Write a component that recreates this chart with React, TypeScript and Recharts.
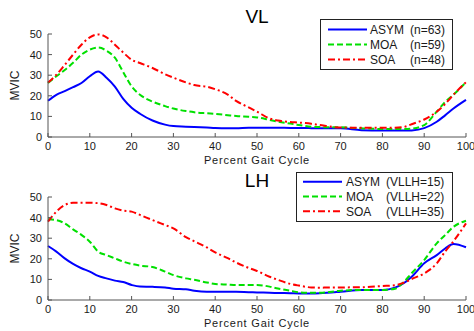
import React from 'react';
import { LineChart, Line, XAxis, YAxis, Label } from 'recharts';

// Percent gait cycle sample points
const cycle = [0, 2, 4, 6, 8, 10, 12, 14, 16, 18, 20, 22, 25, 28, 30, 33, 35, 38, 40, 43, 45, 48, 50, 53, 55, 58, 60, 63, 65, 70, 75, 80, 83, 85, 87, 90, 93, 95, 97, 100];

// VL panel (MVIC)
const vlAsym = [17.6, 20.5, 22.3, 24.2, 26.2, 29.5, 31.8, 28.8, 24.5, 18.5, 14.2, 11.3, 8, 6, 5.3, 5, 4.8, 4.6, 4.4, 4.3, 4.3, 4.5, 4.5, 4.5, 4.5, 4.4, 4.4, 4.3, 4.2, 4.2, 3.3, 3.1, 3.1, 3.1, 3.2, 4.3, 7.4, 10.5, 13.8, 18];
const vlMoa = [26.2, 29.5, 32.5, 36, 40, 42.4, 43.4, 41.9, 38.5, 31.5, 24.6, 20.5, 17.2, 15, 13.8, 12.6, 12, 11.5, 11.2, 10.6, 10.2, 9.8, 9.5, 8.3, 7.5, 6.5, 5.8, 5, 4.8, 4.7, 4.2, 3.9, 3.9, 3.9, 4.1, 5.8, 12.3, 17, 20.5, 26.6];
const vlSoa = [26.5, 30.2, 35, 40, 44.8, 48.4, 49.8, 48.4, 44.8, 41, 37.5, 35.9, 33.5, 30.5, 28.8, 26.5, 25.2, 24.4, 23.2, 20.6, 17.5, 14.4, 12.3, 9, 8, 7.3, 7, 6.4, 5.8, 4.6, 4.5, 4.5, 4.5, 4.8, 6.2, 8.5, 12.3, 16, 20.5, 26.6];

// LH panel (MVIC)
const lhAsym = [26.2, 23.5, 20.2, 17.5, 15.4, 13.8, 11.7, 10.5, 9.4, 8.7, 7.3, 6.5, 6.4, 6.1, 5.5, 5.2, 4.5, 4, 4, 4, 4, 3.8, 3.7, 3.5, 3.4, 3.3, 3.2, 3.2, 3.3, 4, 4.9, 4.9, 6, 8, 11.3, 17.8, 21.8, 25, 27.2, 25.6];
const lhMoa = [39.2, 38.8, 37.2, 34.3, 31.6, 28.3, 23.5, 21.8, 20.2, 18.6, 17.5, 16.7, 16, 13.8, 12.1, 10.5, 9.8, 8.5, 7.8, 7.5, 7.3, 7.3, 7.3, 6.5, 5.6, 4.5, 3.7, 3.5, 3.5, 4.5, 4.9, 4.9, 5.5, 8.5, 13, 19.4, 27.5, 31.5, 35.5, 38.5];
const lhSoa = [38, 42.9, 46.1, 47.2, 47.2, 47.2, 47, 46.1, 44.5, 43.4, 42.9, 41.3, 38.8, 36.4, 34.8, 30.5, 28.5, 25.5, 23.1, 20.3, 18.2, 15.6, 14.1, 11.3, 9.8, 7.8, 7, 6.1, 6, 6.1, 6.2, 6.8, 7.2, 8.3, 10.2, 12.9, 17.8, 23.5, 28.5, 37.2];

const xTicks = [0, 10, 20, 30, 40, 50, 60, 70, 80, 90, 100];
const yTicks = [0, 10, 20, 30, 40, 50];
const seriesNames = ['ASYM', 'MOA', 'SOA'];
const vlCounts = ['(n=63)', '(n=59)', '(n=48)'];
const lhCounts = ['(VLLH=15)', '(VLLH=22)', '(VLLH=35)'];

const FONT = '"Liberation Sans", Arial, Helvetica, sans-serif';
const KEYS = ['asym', 'moa', 'soa'];
const COLORS = ['#0000ff', '#00e000', '#ff0000'];
const DASHES: (string | undefined)[] = [undefined, '6 3', '7 3 2 3'];
const AXIS = '#555';
const TEXT = '#1a1a1a';

const buildRows = (a: number[], b: number[], c: number[]) =>
  cycle.map((x, i) => ({ x, asym: a[i], moa: b[i], soa: c[i] }));

const vlRows = buildRows(vlAsym, vlMoa, vlSoa);
const lhRows = buildRows(lhAsym, lhMoa, lhSoa);

type LegendLayout = {
  box: [number, number, number, number];
  rows: number[];
  line: [number, number];
  nameX: number;
  countX: number;
};

type PanelProps = {
  top: number;
  height: number;
  marginTop: number;
  marginBottom: number;
  title: string;
  titleY: number;
  counts: string[];
  rows: any[];
  legend: LegendLayout;
};

function Panel({ top, height, marginTop, marginBottom, title, titleY, counts, rows, legend }: PanelProps) {
  const [bx, by, bw, bh] = legend.box;
  return (
    <div style={{ position: 'absolute', left: 0, top, width: 474, height }}>
      <LineChart
        width={474}
        height={height}
        data={rows}
        margin={{ top: marginTop, right: 8, bottom: marginBottom, left: 18 }}
      >
        <XAxis
          type="number"
          dataKey="x"
          domain={[0, 100]}
          ticks={xTicks}
          interval={0}
          height={27}
          tickSize={-4}
          tickMargin={9}
          stroke={AXIS}
          tick={{ fill: TEXT, fontSize: 11, fontFamily: FONT }}
        >
          <Label
            value="Percent Gait Cycle"
            position="insideBottom"
            offset={0}
            fill={TEXT}
            fontSize={11}
            fontFamily={FONT}
            style={{ letterSpacing: '0.8px' }}
          />
        </XAxis>
        <YAxis
          type="number"
          domain={[0, 50]}
          ticks={yTicks}
          interval={0}
          width={30}
          tickSize={-4}
          tickMargin={10}
          stroke={AXIS}
          tick={{ fill: TEXT, fontSize: 11, fontFamily: FONT }}
        >
          <Label
            content={(p: any) => {
              const vb = p.viewBox || { x: 18, y: marginTop, width: 30, height: 103 };
              const cx = vb.x + 1;
              const cy = vb.y + vb.height / 2;
              return (
                <text
                  x={cx}
                  y={cy}
                  transform={`rotate(-90 ${cx} ${cy})`}
                  textAnchor="middle"
                  fill={TEXT}
                  fontSize={12}
                  fontFamily={FONT}
                >
                  MVIC
                </text>
              );
            }}
          />
        </YAxis>
        {KEYS.map((k, i) => (
          <Line
            key={k}
            type="monotone"
            dataKey={k}
            stroke={COLORS[i]}
            strokeWidth={2}
            strokeDasharray={DASHES[i]}
            dot={false}
            activeDot={false}
            isAnimationActive={false}
          />
        ))}
      </LineChart>
      <svg
        width={474}
        height={height}
        style={{ position: 'absolute', left: 0, top: 0, pointerEvents: 'none' }}
      >
        <text x={257} y={titleY} textAnchor="middle" fontSize={19} fontFamily={FONT} fill="#000">
          {title}
        </text>
        <rect x={bx} y={by} width={bw} height={bh} fill="#fff" stroke="#222" strokeWidth={1} />
        {seriesNames.map((name, i) => (
          <g key={name}>
            <line
              x1={legend.line[0]}
              x2={legend.line[1]}
              y1={legend.rows[i]}
              y2={legend.rows[i]}
              stroke={COLORS[i]}
              strokeWidth={2}
              strokeDasharray={DASHES[i]}
            />
            <text x={legend.nameX} y={legend.rows[i] + 4.3} fontSize={12} fontFamily={FONT} fill={TEXT}>
              {name}
            </text>
            <text x={legend.countX} y={legend.rows[i] + 4.3} fontSize={12} fontFamily={FONT} fill={TEXT}>
              {counts[i]}
            </text>
          </g>
        ))}
      </svg>
    </div>
  );
}

export default function App() {
  return (
    <div
      style={{
        position: 'absolute',
        left: 0,
        top: 0,
        width: 474,
        height: 331,
        background: '#fff',
        overflow: 'hidden',
      }}
    >
      <Panel
        top={0}
        height={166}
        marginTop={34}
        marginBottom={2}
        title="VL"
        titleY={23}
        counts={vlCounts}
        rows={vlRows}
        legend={{ box: [320.5, 19.5, 132, 50], rows: [29.5, 44.5, 59.5], line: [328, 367], nameX: 370, countX: 410 }}
      />
      <Panel
        top={166}
        height={165}
        marginTop={31}
        marginBottom={4}
        title="LH"
        titleY={20.7}
        counts={lhCounts}
        rows={lhRows}
        legend={{ box: [296.5, 6.5, 156, 49], rows: [15.7, 30.5, 45.3], line: [303, 342], nameX: 346, countX: 386 }}
      />
    </div>
  );
}
